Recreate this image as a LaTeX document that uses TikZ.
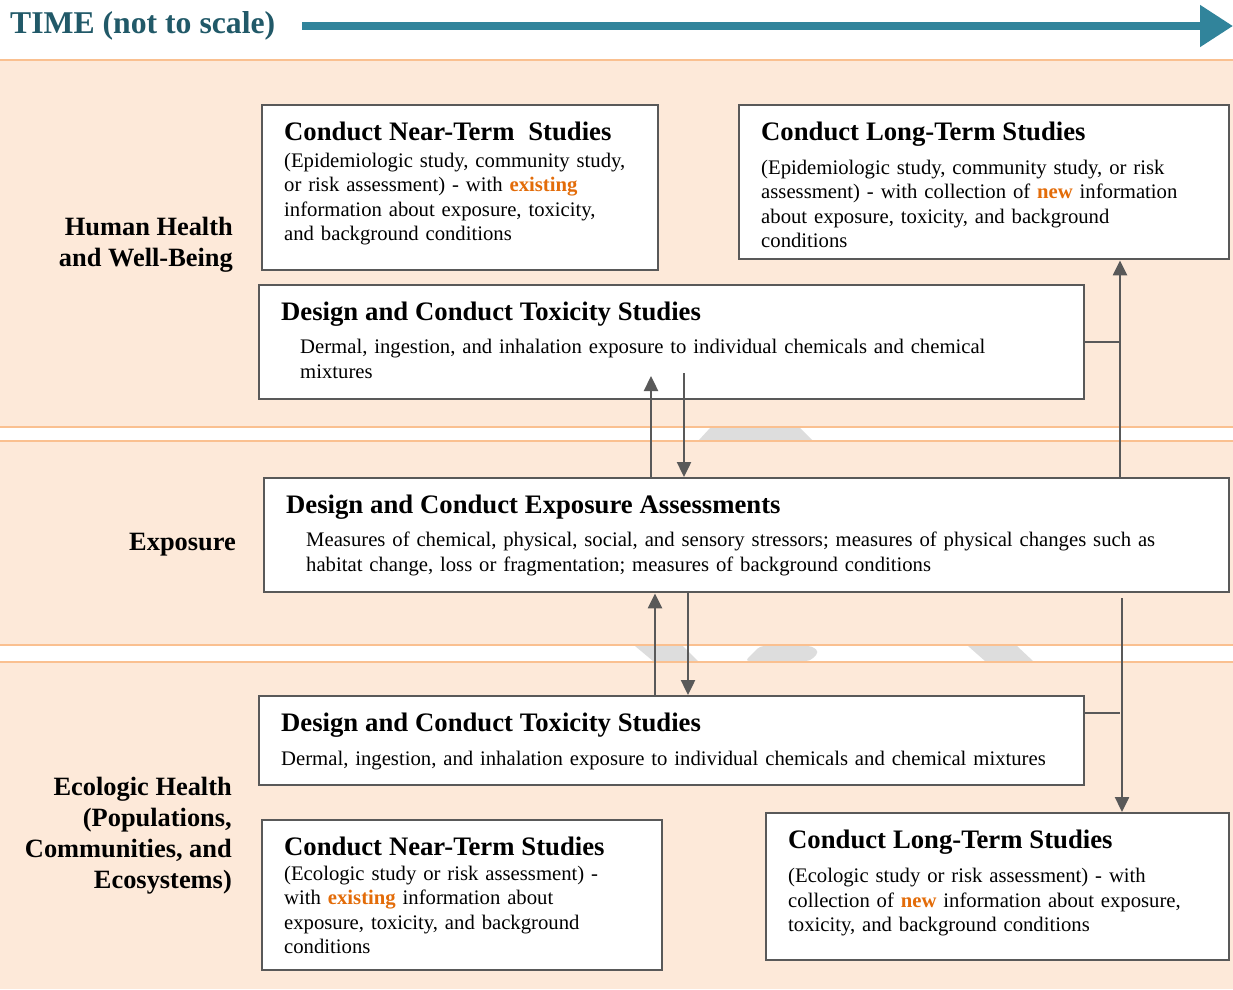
\documentclass[tikz,border=0pt]{standalone}
\usepackage{fontspec}
\setmainfont{Liberation Serif}
\usetikzlibrary{arrows.meta}
\definecolor{peach}{HTML}{FDE9D9}
\definecolor{bandline}{HTML}{FAC090}
\definecolor{boxgray}{HTML}{595959}
\definecolor{hlorange}{HTML}{E36C09}
\definecolor{timeteal}{HTML}{31849B}
\definecolor{timetext}{HTML}{215968}
\definecolor{shadegray}{HTML}{DDDDDD}
\newcommand{\hl}[1]{\textcolor{hlorange}{\textbf{#1}}}
\newcommand{\boxhead}[2][0.5pt]{{\fontsize{26.7}{28}\selectfont\bfseries #2\par}\vspace{#1}}
\tikzset{stage/.style={draw=boxgray,line width=2.4pt,fill=white,anchor=north west,align=left,
           inner xsep=22pt,inner ysep=0pt,text height=35pt,font=\fontsize{20.7}{24.5}\selectfont},
         side/.style={anchor=east,align=right,inner sep=0pt,font=\fontsize{26.4}{31}\selectfont\bfseries},
         link/.style={draw=boxgray,line width=2.4pt,-{Triangle[width=14pt,length=15pt]}},
         joint/.style={draw=boxgray,line width=2.4pt},
         band/.style={fill=peach},
         bandedge/.style={draw=bandline,line width=2.5pt},
         shade/.style={fill=shadegray}}

\begin{document}
\begin{tikzpicture}[x=1pt,y=-1pt]
        \useasboundingbox (0,0) rectangle (1233,989);
        \fill [white] (0,0) rectangle (1233,989);
        \fill [band] (0,60)  rectangle (1233,427);
        \fill [band] (0,441) rectangle (1233,645);
        \fill [band] (0,662) rectangle (1233,989);

        \fill [shade] (710,428) -- (800,428) -- (812,440) -- (699,440) -- cycle;
        \fill [shade] (635,646) -- (683,646) -- (698,661) -- (653,661) -- cycle;
        \fill [shade, rounded corners=4pt] (760,646) -- (812,646) -- (819,652) -- (810,661) -- (745,661) -- cycle;
        \fill [shade] (968,646) -- (1017,646) -- (1033,661) -- (985,661) -- cycle;
        \foreach \y in {60,427,441,645,662}
          \draw [bandedge] (0,\y) -- (1233,\y);

        \node [anchor=west,inner sep=0pt,text=timetext,font=\fontsize{31.7}{36}\selectfont\bfseries]
              (timeLabel) at (10,26) {TIME (not to scale)};
        \coordinate (timeEnd) at (1233,26);
        \draw [timeteal,line width=8pt,-{Triangle[width=40pt,length=33pt]}] ([xshift=27pt]timeLabel.east) -- (timeEnd);

        \node [side] (hhLabel)   at (233,245) {Human Health\\and Well-Being};
        \node [side] (expoLabel) at (236,545) {Exposure};
        \node [side] (ecoLabel)  at (232,836) {Ecologic Health\\(Populations,\\Communities, and\\Ecosystems)};

        \node [stage,text width=352pt,text depth=130pt] (nearHH) at (261,104)
              {\boxhead[2.5pt]{Conduct Near-Term\ \ Studies}(Epidemiologic study, community study,\\
               or risk assessment) - with \hl{existing}\\information about exposure, toxicity,\\
               and background conditions};
        \node [stage,text width=446pt,text depth=119pt] (longHH) at (738,104)
              {\boxhead[9.5pt]{Conduct Long-Term Studies}(Epidemiologic study, community study, or risk\\
               assessment) - with collection of \hl{new} information\\about exposure, toxicity, and background\\
               conditions};
        \node [stage,text width=781pt,text depth=79pt] (toxHH) at (258,284)
              {\boxhead[9pt]{Design and Conduct Toxicity Studies}{\leftskip=19pt Dermal, ingestion, and
               inhalation exposure to individual chemicals and chemical\\mixtures\par}};
        \node [stage,text width=921pt,text depth=79pt] (expo) at (263,477)
              {\boxhead[9pt]{Design and Conduct Exposure Assessments}{\leftskip=20pt Measures of chemical,
               physical, social, and sensory stressors; measures of physical changes such as\\
               habitat change, loss or fragmentation; measures of background conditions\par}};
        \node [stage,text width=781pt,text depth=54pt] (toxEco) at (258,695)
              {\boxhead[10pt]{Design and Conduct Toxicity Studies}Dermal, ingestion, and inhalation exposure
               to individual chemicals and chemical mixtures};
        \node [stage,text width=356pt,text depth=115pt] (nearEco) at (261,819)
              {\boxhead{Conduct Near-Term Studies}(Ecologic study or risk assessment) -\\
               with \hl{existing} information about\\exposure, toxicity, and background\\conditions};
        \node [stage,text width=419pt,text depth=112pt] (longEco) at (765,812)
              {\boxhead[10pt]{Conduct Long-Term Studies}(Ecologic study or risk assessment) - with\\
               collection of \hl{new} information about exposure,\\toxicity, and background conditions};

        \coordinate (hhUp)    at (651,376);
        \coordinate (hhDown)  at (684,373);
        \coordinate (hhJoin)  at (1120,341);
        \coordinate (ecoStart) at (1122,598);
        \coordinate (ecoJoin) at (1120,713);

        \draw [link] ([xshift=388pt]expo.north west) -- (hhUp);
        \draw [link] (hhDown) -- ([xshift=421pt]expo.north west);
        \draw [link] ([xshift=397pt]toxEco.north west) -- ([xshift=392pt]expo.south west);
        \draw [link] ([xshift=425pt]expo.south west) -- ([xshift=430pt]toxEco.north west);
        \draw [link] ([xshift=857pt]expo.north west) -- ([xshift=382pt]longHH.south west);
        \draw [joint] (toxHH.east) -- (toxHH.east -| hhJoin);
        \draw [link] (ecoStart) -- ([xshift=357pt]longEco.north west);
        \draw [joint] (ecoJoin -| toxEco.east) -- (ecoJoin);
\end{tikzpicture}
\end{document}
